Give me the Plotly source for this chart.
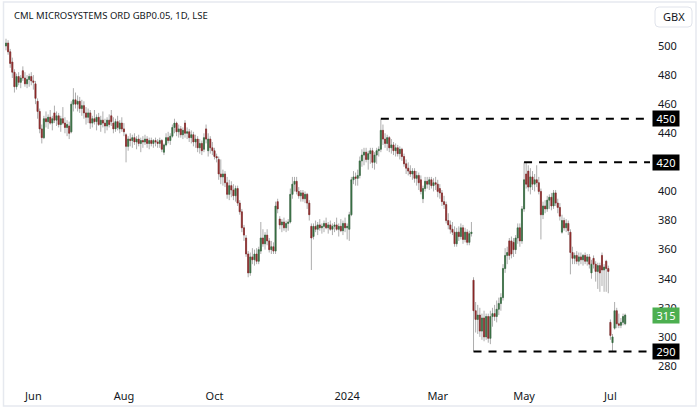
import pandas as pd
import plotly.graph_objects as go

TITLE = "CML MICROSYSTEMS ORD GBP0.05, 1D, LSE"
CURRENCY = "GBX"
UK_HOLIDAYS = ["2023-05-29", "2023-08-28", "2023-12-25", "2023-12-26", "2024-01-01",
               "2024-03-29", "2024-04-01", "2024-05-06", "2024-05-27"]
FIRST_DATE = "2023-05-12"
LAST_DATE = "2024-07-10"

OPEN = [
    500, 502, 496, 489, 482, 472, 479, 475, 483, 478,
    474, 477, 479, 476, 474, 462, 455, 443, 437, 450,
    448, 451, 447, 454, 449, 452, 446, 450, 447, 444,
    445, 441, 460, 463, 460, 462, 457, 459, 454, 451,
    454, 447, 450, 448, 451, 446, 449, 447, 445, 449,
    452, 447, 443, 448, 443, 447, 443, 439, 431, 436,
    435, 437, 434, 436, 433, 435, 434, 436, 433, 435,
    433, 435, 434, 433, 435, 427, 432, 437, 435, 438,
    444, 447, 441, 443, 439, 447, 440, 441, 437, 439,
    434, 436, 430, 433, 429, 443, 428, 436, 430, 428,
    424, 422, 412, 410, 412, 406, 398, 404, 401, 397,
    402, 392, 386, 375, 368, 357, 344, 355, 353, 357,
    352, 359, 368, 364, 370, 366, 360, 362, 359, 393,
    381, 377, 379, 375, 378, 379, 398, 405, 407, 400,
    397, 399, 395, 398, 392, 376, 369, 376, 374, 377,
    375, 376, 378, 375, 377, 374, 376, 377, 374, 376,
    373, 378, 375, 374, 384, 408, 410, 409, 411, 421,
    425, 427, 422, 426, 428, 420, 425, 428, 429, 442,
    436, 433, 437, 430, 432, 428, 430, 426, 429, 424,
    419, 416, 414, 412, 414, 409, 411, 408, 395, 402,
    407, 405, 408, 404, 406, 405, 402, 399, 393, 391,
    380, 377, 374, 372, 364, 372, 369, 375, 367, 372,
    365, 371, 339, 318, 312, 315, 304, 313, 300, 314,
    299, 314, 316, 314, 319, 323, 327, 347, 356, 366,
    366, 365, 360, 368, 375, 366, 388, 412, 414, 403,
    410, 405, 408, 406, 400, 384, 390, 388, 394, 396,
    390, 399, 392, 389, 372, 380, 375, 378, 372, 358,
    354, 356, 352, 355, 353, 356, 352, 355, 344, 354,
    350, 345, 349, 356, 346, 352, 347, 310, 296, 306,
    318, 309, 308, 310, 309,
]
HIGH = [
    505, 504, 498, 492, 484, 481, 482, 480, 486, 482,
    480, 481, 482, 480, 476, 464, 457, 446, 452, 455,
    453, 456, 452, 459, 455, 454, 452, 458, 451, 449,
    448, 462, 471, 468, 466, 465, 463, 462, 458, 457,
    456, 452, 456, 453, 454, 452, 455, 450, 451, 453,
    456, 451, 450, 452, 449, 451, 447, 440, 438, 440,
    439, 440, 438, 439, 437, 438, 439, 438, 437, 437,
    436, 437, 436, 437, 436, 433, 440, 441, 440, 446,
    450, 448, 446, 445, 444, 449, 444, 443, 442, 441,
    439, 438, 436, 435, 440, 446, 440, 438, 434, 430,
    426, 424, 422, 415, 414, 410, 408, 407, 405, 404,
    404, 394, 388, 377, 370, 359, 358, 361, 360, 361,
    362, 379, 374, 372, 374, 368, 366, 365, 393, 395,
    383, 381, 382, 380, 381, 402, 410, 410, 410, 403,
    401, 401, 400, 399, 394, 378, 378, 380, 379, 381,
    378, 380, 382, 379, 380, 378, 379, 382, 378, 381,
    380, 382, 378, 386, 410, 414, 413, 415, 424, 429,
    430, 430, 428, 430, 430, 427, 430, 431, 450, 446,
    440, 439, 438, 436, 434, 433, 432, 431, 430, 426,
    422, 420, 418, 416, 416, 414, 413, 411, 404, 410,
    410, 410, 410, 409, 410, 408, 405, 401, 397, 393,
    385, 380, 379, 376, 375, 376, 378, 377, 375, 374,
    373, 379, 341, 324, 322, 320, 316, 318, 316, 316,
    318, 320, 322, 325, 327, 330, 350, 361, 362, 368,
    369, 368, 370, 378, 378, 390, 420, 420, 418, 416,
    414, 412, 418, 410, 402, 393, 394, 397, 398, 399,
    401, 401, 395, 392, 384, 382, 381, 380, 374, 362,
    358, 359, 358, 358, 357, 358, 357, 357, 353, 356,
    352, 351, 351, 358, 350, 353, 349, 312, 302, 324,
    320, 316, 313, 316, 316,
]
LOW = [
    497, 494, 485, 478, 468, 470, 473, 471, 476, 472,
    471, 472, 473, 470, 460, 450, 440, 433, 436, 444,
    443, 446, 442, 447, 445, 444, 441, 446, 440, 438,
    436, 440, 455, 457, 455, 454, 452, 450, 446, 447,
    443, 444, 446, 442, 445, 441, 444, 440, 442, 444,
    445, 440, 441, 442, 440, 441, 438, 420, 428, 431,
    430, 432, 429, 431, 427, 430, 432, 430, 429, 431,
    430, 431, 430, 430, 427, 425, 431, 433, 432, 437,
    440, 438, 437, 437, 436, 437, 436, 434, 433, 431,
    430, 427, 426, 425, 427, 433, 424, 426, 425, 422,
    420, 408, 405, 404, 403, 395, 394, 396, 394, 393,
    390, 384, 372, 366, 355, 341, 342, 350, 349, 350,
    350, 357, 362, 360, 363, 358, 357, 357, 357, 385,
    374, 372, 373, 372, 373, 378, 395, 400, 398, 395,
    393, 393, 392, 388, 380, 346, 367, 372, 370, 373,
    371, 372, 374, 371, 373, 370, 372, 373, 369, 372,
    370, 372, 367, 366, 383, 405, 404, 404, 409, 417,
    418, 420, 415, 419, 416, 415, 419, 424, 427, 432,
    430, 428, 427, 426, 425, 424, 424, 422, 421, 417,
    412, 411, 410, 408, 406, 404, 401, 398, 392, 400,
    402, 401, 402, 400, 401, 396, 395, 390, 388, 378,
    374, 371, 370, 362, 362, 366, 367, 364, 365, 363,
    363, 369, 290, 303, 302, 300, 298, 297, 298, 296,
    295, 307, 311, 310, 315, 318, 325, 344, 350, 353,
    354, 355, 357, 364, 362, 364, 386, 402, 400, 398,
    401, 400, 403, 398, 367, 381, 385, 386, 388, 387,
    388, 390, 385, 380, 371, 373, 372, 370, 343, 350,
    350, 350, 349, 350, 349, 350, 349, 347, 340, 347,
    338, 333, 331, 335, 331, 331, 330, 298, 290, 305,
    306, 306, 306, 308, 308,
]
CLOSE = [
    502, 496, 488, 482, 472, 479, 475, 478, 478, 474,
    477, 479, 476, 475, 464, 455, 443, 437, 450, 448,
    451, 447, 450, 449, 452, 446, 450, 447, 444, 446,
    440, 460, 463, 460, 462, 457, 459, 454, 451, 454,
    447, 450, 448, 451, 446, 449, 447, 445, 449, 446,
    448, 443, 448, 444, 447, 443, 441, 431, 436, 435,
    437, 434, 436, 433, 435, 434, 436, 433, 435, 433,
    435, 434, 433, 435, 429, 432, 437, 435, 438, 444,
    447, 441, 443, 439, 442, 440, 441, 437, 439, 434,
    436, 430, 433, 428, 437, 436, 436, 430, 428, 424,
    423, 412, 410, 412, 406, 398, 404, 401, 397, 402,
    392, 386, 375, 370, 357, 344, 355, 353, 357, 352,
    360, 368, 364, 370, 366, 360, 362, 359, 390, 388,
    377, 379, 375, 378, 379, 398, 405, 407, 400, 397,
    399, 395, 398, 392, 384, 368, 376, 374, 377, 375,
    376, 378, 375, 377, 374, 376, 377, 374, 376, 373,
    378, 375, 376, 384, 408, 410, 409, 411, 421, 425,
    427, 422, 426, 428, 420, 425, 428, 429, 442, 436,
    433, 437, 430, 432, 428, 430, 426, 429, 424, 419,
    416, 414, 412, 414, 409, 411, 406, 400, 402, 407,
    405, 408, 404, 406, 405, 400, 399, 393, 391, 380,
    377, 374, 372, 364, 372, 369, 375, 367, 372, 365,
    371, 372, 318, 312, 315, 304, 313, 300, 314, 299,
    314, 316, 314, 319, 323, 327, 347, 356, 358, 356,
    357, 360, 368, 375, 366, 388, 408, 405, 403, 410,
    405, 408, 406, 400, 384, 390, 388, 394, 396, 390,
    399, 392, 389, 383, 380, 375, 378, 373, 358, 354,
    356, 352, 355, 353, 356, 352, 355, 350, 350, 350,
    345, 349, 344, 346, 348, 347, 345, 301, 300, 318,
    309, 308, 310, 314, 315,
]

# Marked levels: (price, date the dashed line starts)
LEVEL_PRICES = [450, 420, 290]
LEVEL_STARTS = ["2024-01-24", "2024-05-01", "2024-03-26"]
LAST_PRICE = 315

MONTH_TICKS = ["2023-06-01", "2023-08-01", "2023-10-02", "2024-01-02",
               "2024-03-01", "2024-05-01", "2024-07-01"]
MONTH_TEXT = ["Jun", "Aug", "Oct", "2024", "Mar", "May", "Jul"]

# ---------------------------------------------------------------------------
dates = pd.bdate_range(FIRST_DATE, LAST_DATE, freq="C", holidays=UK_HOLIDAYS)
n = min(len(dates), len(OPEN), len(HIGH), len(LOW), len(CLOSE))
dates = list(dates[:n])
O, H, L, C = OPEN[:n], HIGH[:n], LOW[:n], CLOSE[:n]
body_hi = [max(a, b) for a, b in zip(O, C)]
body_lo = [min(a, b) for a, b in zip(O, C)]

W, HGT = 700, 410
ML, MR, MT, MB = 5, 50, 30, 27
PW, PH = W - ML - MR, HGT - MT - MB

def px_x(p):
    return (p - ML) / PW

def px_y(p):
    return (HGT - MB - p) / PH

WICK = "#adadad"
UP = "#336b3e"
DOWN = "#8b2727"
TXT = "#131722"
FONT = "Noto Sans"

fig = go.Figure()
fig.add_trace(go.Candlestick(
    x=dates, open=O, high=H, low=L, close=C,
    increasing=dict(line=dict(color=WICK, width=1), fillcolor=WICK),
    decreasing=dict(line=dict(color=WICK, width=1), fillcolor=WICK),
    whiskerwidth=0, showlegend=False, hoverinfo="skip"))
fig.add_trace(go.Candlestick(
    x=dates, open=O, high=body_hi, low=body_lo, close=C,
    increasing=dict(line=dict(color=UP, width=0.6), fillcolor=UP),
    decreasing=dict(line=dict(color=DOWN, width=0.6), fillcolor=DOWN),
    whiskerwidth=0, showlegend=False, hoverinfo="skip"))

X_START = "2023-05-11 12:36"
X_END = "2024-07-25 19:12"

shapes = []
annotations = []
for price, start in zip(LEVEL_PRICES, LEVEL_STARTS):
    shapes.append(dict(type="line", xref="x", yref="y", x0=start, x1=X_END,
                       y0=price, y1=price,
                       line=dict(color="#000000", width=2, dash="8px,7px")))
    annotations.append(dict(xref="paper", yref="y", x=1, y=price, xanchor="left",
                            xshift=2, text=str(price), showarrow=False,
                            font=dict(family=FONT, size=11, color="#ffffff"),
                            bgcolor="#000000", width=23, height=12, borderpad=1.5))
annotations.append(dict(xref="paper", yref="y", x=1, y=LAST_PRICE, xanchor="left",
                        xshift=2, text=str(LAST_PRICE), showarrow=False,
                        font=dict(family=FONT, size=11, color="#ffffff"),
                        bgcolor="#4caf50", width=23, height=12, borderpad=1.5))
annotations.append(dict(xref="paper", yref="paper", x=px_x(12), y=px_y(16),
                        xanchor="left", yanchor="middle", text=TITLE,
                        showarrow=False, font=dict(family=FONT, size=9.5, color=TXT)))
annotations.append(dict(xref="paper", yref="paper", x=px_x(673.5), y=px_y(17),
                        xanchor="center", yanchor="middle", text=CURRENCY,
                        showarrow=False, font=dict(family=FONT, size=11, color=TXT)))
# GBX rounded box
x0, x1, y0, y1, r = px_x(655), px_x(692), px_y(27), px_y(7), 4
rx, ry = r / PW, r / PH
path = (f"M {x0+rx},{y0} L {x1-rx},{y0} Q {x1},{y0} {x1},{y0+ry} "
        f"L {x1},{y1-ry} Q {x1},{y1} {x1-rx},{y1} L {x0+rx},{y1} "
        f"Q {x0},{y1} {x0},{y1-ry} L {x0},{y0+ry} Q {x0},{y0} {x0+rx},{y0} Z")
shapes.append(dict(type="path", xref="paper", yref="paper", path=path,
                   line=dict(color="#e0e3eb", width=1), fillcolor="#ffffff"))
# outer frame
shapes.append(dict(type="rect", xref="paper", yref="paper",
                   x0=px_x(3.5), x1=px_x(696), y0=px_y(406), y1=px_y(2),
                   line=dict(color="#e6e9ef", width=1.5), fillcolor="rgba(0,0,0,0)"))

fig.update_layout(
    width=W, height=HGT,
    margin=dict(l=ML, r=MR, t=MT, b=MB),
    paper_bgcolor="#ffffff", plot_bgcolor="#ffffff",
    font=dict(family=FONT, size=11, color=TXT),
    showlegend=False,
    shapes=shapes, annotations=annotations,
    xaxis=dict(
        type="date", range=[X_START, X_END],
        rangebreaks=[dict(bounds=["sat", "mon"]), dict(values=UK_HOLIDAYS)],
        rangeslider=dict(visible=False),
        tickvals=MONTH_TICKS, ticktext=MONTH_TEXT,
        showgrid=False, zeroline=False, showline=False, ticks="",
        ticklabelstandoff=5, tickfont=dict(size=11, color=TXT),
    ),
    yaxis=dict(
        side="right", range=[268.3, 511.0],
        tickvals=list(range(280, 501, 20)),
        showgrid=False, zeroline=False, showline=False, ticks="",
        ticklabelstandoff=7, tickfont=dict(size=11, color=TXT),
    ),
)

fig.write_html("out.html")
